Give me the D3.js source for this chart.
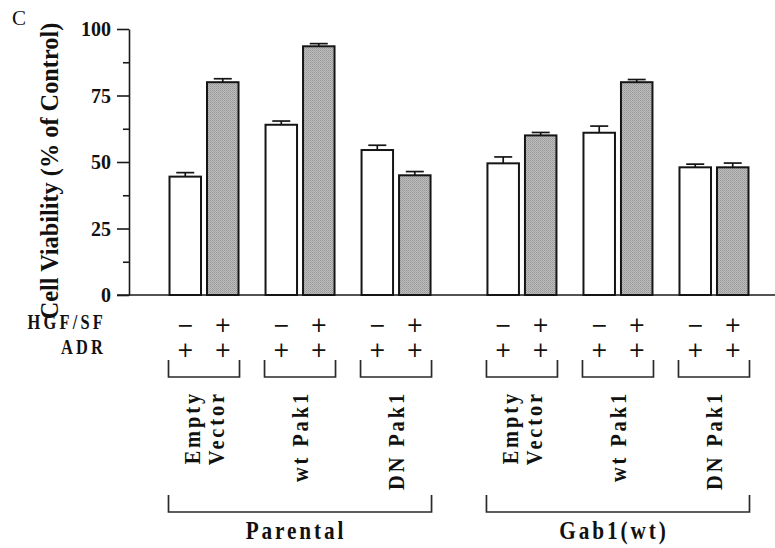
<!DOCTYPE html>
<html>
<head>
<meta charset="utf-8">
<script src="https://cdn.jsdelivr.net/npm/d3@7"></script>
<style>
  html, body { margin: 0; padding: 0; background: #fff; }
  svg { display: block; }
  text { font-family: "Liberation Serif", "Times New Roman", serif; fill: #111; }
</style>
</head>
<body>
<svg id="chart" width="775" height="548"></svg>
<script>
// Cell line backgrounds and the Pak1 constructs transfected into each
const sections = ["Parental", "Gab1(wt)"];
const constructs = ["Empty Vector", "wt Pak1", "DN Pak1"];
const constructLines = [["Empty", "Vector"], ["wt Pak1"], ["DN Pak1"]];

// Treatment rows: HGF/SF absent / present, ADR always present
const hgfLevels = ["−", "+"];
const adrLevels = ["+", "+"];
const rowLabels = ["HGF/SF", "ADR"];

// Cell viability (% of control), one entry per construct in section order
const viabilityNoHGF = [44.5, 64, 54.5, 49.5, 61, 48];
const viabilityHGF   = [80, 93.5, 45, 60, 80, 48];
const errNoHGF = [1.5, 1.4, 1.8, 2.4, 2.5, 1.2];
const errHGF   = [1.3, 1.0, 1.4, 1.1, 1.0, 1.6];

// Axis ticks
const majorTicks = [0, 25, 50, 75, 100];
const minorTicks = [12.5, 37.5, 62.5, 87.5];

const svg = d3.select("#chart");

const y = d3.scaleLinear().domain([0, 100]).range([295, 29]);
const xSection = d3.scaleBand().domain(sections).range([156, 762]).paddingInner(0.094);
const xGroup = d3.scaleBand().domain(constructs).range([0, xSection.bandwidth()]);
const xBar = d3.scaleBand().domain(hgfLevels.map((d, i) => i)).range([-34.5, 34.5]).paddingInner(0.16);

// Flatten into bar records
const bars = [];
sections.forEach((s, si) => {
  constructs.forEach((c, ci) => {
    const k = si * constructs.length + ci;
    const cx = xSection(s) + xGroup(c) + xGroup.bandwidth() / 2;
    bars.push({ section: s, construct: c, hgf: 0, cx, value: viabilityNoHGF[k], err: errNoHGF[k] });
    bars.push({ section: s, construct: c, hgf: 1, cx, value: viabilityHGF[k], err: errHGF[k] });
  });
});

// Stippled grey fill for the HGF/SF-treated bars
const defs = svg.append("defs");
const pat = defs.append("pattern").attr("id", "stipple")
  .attr("patternUnits", "userSpaceOnUse").attr("width", 2).attr("height", 2);
pat.append("rect").attr("width", 2).attr("height", 2).attr("fill", "#bcbcbc");
pat.append("rect").attr("width", 1).attr("height", 1).attr("fill", "#989898");
pat.append("rect").attr("x", 1).attr("y", 1).attr("width", 1).attr("height", 1).attr("fill", "#a6a6a6");

// Condensed, letter-spaced bold lettering helper
function label(g, str, o) {
  const t = g.append("text")
    .attr("transform", `translate(${o.x},${o.y}) rotate(${o.rotate || 0}) scale(${o.sx || 1},1)`)
    .attr("text-anchor", o.anchor || "start")
    .attr("font-size", o.size)
    .attr("font-weight", o.weight || "bold")
    .attr("letter-spacing", o.ls || 0)
    .text(str);
  if (o.dy) t.attr("dy", o.dy);
  return t;
}

// Y axis with major and minor ticks
const yAxis = svg.append("g").attr("transform", "translate(129,0)")
  .call(d3.axisLeft(y).tickValues(majorTicks).tickSize(12).tickSizeOuter(0).tickPadding(6));
yAxis.select(".domain").attr("stroke", "#1a1a1a").attr("stroke-width", 1.6);
yAxis.selectAll(".tick line").attr("stroke", "#1a1a1a").attr("stroke-width", 1.6);
yAxis.selectAll(".tick text")
  .attr("font-family", "Liberation Serif, serif").attr("font-weight", "bold")
  .attr("font-size", 20).attr("fill", "#111").attr("dy", "0.34em");

const yMinor = svg.append("g").attr("transform", "translate(129,0)")
  .call(d3.axisLeft(y).tickValues(minorTicks).tickSize(6).tickSizeOuter(0).tickFormat(""));
yMinor.select(".domain").remove();
yMinor.selectAll(".tick line").attr("stroke", "#1a1a1a").attr("stroke-width", 1.6);

// Baseline
svg.append("line").attr("x1", 117).attr("x2", 775).attr("y1", y(0)).attr("y2", y(0))
  .attr("stroke", "#1a1a1a").attr("stroke-width", 1.6);

// Y axis title
label(svg, "Cell Viability (% of Control)", {
  x: 58, y: (y(0) + y(100)) / 2 + 9, rotate: -90, anchor: "middle", size: 24.3
});

// Panel letter
label(svg, "C", { x: 12, y: 25, size: 21, weight: "normal" });

// Bars
const barW = xBar.bandwidth();
svg.append("g").selectAll("rect").data(bars).join("rect")
  .attr("x", d => d.cx + xBar(d.hgf))
  .attr("y", d => y(d.value))
  .attr("width", barW)
  .attr("height", d => y(0) - y(d.value))
  .attr("fill", d => d.hgf ? "url(#stipple)" : "#fff")
  .attr("stroke", "#151515").attr("stroke-width", 2);

// Error bars (upper whisker with cap)
const eg = svg.append("g").attr("stroke", "#151515").attr("stroke-width", 1.7);
eg.selectAll("line.stem").data(bars).join("line").attr("class", "stem")
  .attr("x1", d => d.cx + xBar(d.hgf) + barW / 2).attr("x2", d => d.cx + xBar(d.hgf) + barW / 2)
  .attr("y1", d => y(d.value)).attr("y2", d => y(d.value + d.err));
eg.selectAll("line.cap").data(bars).join("line").attr("class", "cap")
  .attr("x1", d => d.cx + xBar(d.hgf) + barW / 2 - 9).attr("x2", d => d.cx + xBar(d.hgf) + barW / 2 + 9)
  .attr("y1", d => y(d.value + d.err)).attr("y2", d => y(d.value + d.err));

// Treatment rows: labels on the left, a sign under each bar
const rowY = [332, 357];
rowLabels.forEach((r, i) => {
  label(svg, r, { x: 106, y: rowY[i] - 3, anchor: "end", size: 20.5, sx: 0.8, ls: 4 });
});
const signG = svg.append("g");
bars.forEach(d => {
  const bx = d.cx + xBar(d.hgf) + barW / 2;
  [hgfLevels[d.hgf], adrLevels[d.hgf]].forEach((s, i) => {
    signG.append("text").attr("x", bx).attr("y", rowY[i]).attr("text-anchor", "middle")
      .style("font-family", "'DejaVu Sans', sans-serif")
      .attr("font-size", 20.5).attr("font-weight", "normal").attr("fill", "#111").text(s);
  });
});

// Construct brackets and labels
const groups = bars.filter(d => d.hgf === 0);
const bg = svg.append("g").attr("fill", "none").attr("stroke", "#2a2a2a").attr("stroke-width", 1.7);
groups.forEach(d => {
  const x0 = d.cx - 35.5, x1 = d.cx + 35.5;
  bg.append("path").attr("d", `M${x0},360V377H${x1}V360`);
  const lines = constructLines[constructs.indexOf(d.construct)];
  lines.forEach((ln, li) => {
    const off = (li - (lines.length - 1) / 2) * 24;
    label(svg, ln, {
      x: d.cx + off + 8, y: 391, rotate: -90, anchor: "end", size: 24, sx: 0.85, ls: 3.4
    });
  });
});

// Section brackets and labels
sections.forEach(s => {
  const gs = groups.filter(d => d.section === s);
  const x0 = gs[0].cx - 35.5, x1 = gs[gs.length - 1].cx + 35.5;
  bg.append("path").attr("d", `M${x0},495V512H${x1}V495`);
  label(svg, s, { x: (x0 + x1) / 2 - 4, y: 539, anchor: "middle", size: 25, sx: 0.85, ls: 3.4 });
});
</script>
</body>
</html>
